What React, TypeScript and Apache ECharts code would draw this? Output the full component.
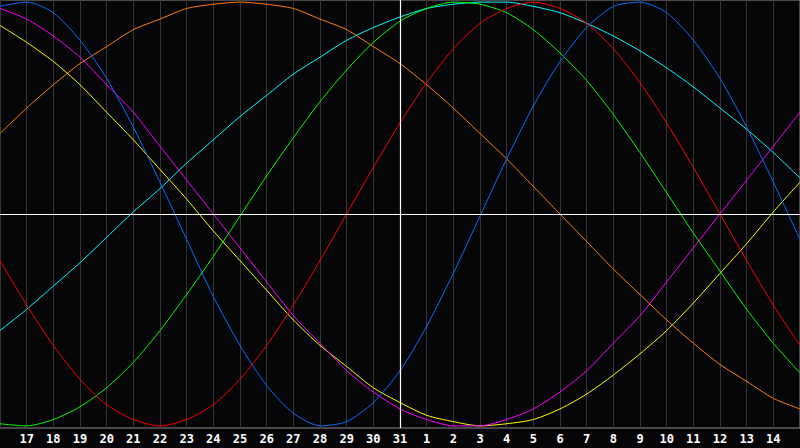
import * as echarts from 'echarts';
import { useEffect, useRef } from 'react';

// day labels along the bottom (first and last sit on the frame edges)
const days = [
  '16', '17', '18', '19', '20', '21', '22', '23', '24', '25', '26', '27', '28', '29', '30', '31',
  '1', '2', '3', '4', '5', '6', '7', '8', '9', '10', '11', '12', '13', '14', '15',
];

// curve values, -100..100
const red = [
  -22, -43, -62, -78, -90, -97, -100, -97, -90, -78, -62, -43, -22, 0, 22, 43,
  62, 78, 90, 97, 100, 97, 90, 78, 62, 43, 22, 0, -22, -43, -62,
];
const green = [
  -99, -100, -97, -91, -82, -70, -55, -38, -20, -1, 18, 36, 53, 68, 81, 91,
  97, 100, 99, 95, 87, 76, 63, 47, 29, 10, -9, -27, -45, -61, -75,
];
const blue = [
  98, 100, 95, 82, 64, 41, 15, -12, -39, -62, -81, -94, -100, -98, -89, -74,
  -53, -28, -1, 26, 51, 72, 88, 98, 100, 95, 82, 64, 41, 15, -12,
];
const cyan = [
  -55, -45, -34, -23, -11, 1, 12, 24, 35, 46, 56, 66, 74, 82, 88, 93,
  97, 99, 100, 100, 98, 95, 90, 84, 77, 69, 60, 50, 40, 29, 17,
];
const magenta = [
  97, 92, 84, 74, 61, 48, 32, 16, 0, -16, -32, -48, -61, -74, -84, -92,
  -97, -100, -100, -97, -92, -84, -74, -61, -48, -32, -16, 0, 16, 32, 48,
];
const yellow = [
  89, 81, 72, 61, 48, 35, 21, 7, -8, -22, -36, -50, -62, -72, -82, -89,
  -95, -98, -100, -99, -97, -92, -85, -76, -66, -55, -42, -28, -14, 1, 15,
];
const orange = [
  38, 50, 61, 71, 79, 87, 92, 97, 99, 100, 99, 97, 92, 87, 79, 71,
  61, 50, 38, 26, 13, 0, -13, -26, -38, -50, -61, -71, -79, -87, -92,
];

const curves = [
  { name: 'orange', data: orange, color: '#ff8000' },
  { name: 'cyan', data: cyan, color: '#00ffff' },
  { name: 'yellow', data: yellow, color: '#ffff00' },
  { name: 'magenta', data: magenta, color: '#ff00ff' },
  { name: 'green', data: green, color: '#00ff00' },
  { name: 'blue', data: blue, color: '#0a6cff' },
  { name: 'red', data: red, color: '#ff0000' },
];

const getOptions = (): echarts.EChartsOption => ({
  animation: false,
  backgroundColor: '#060609',
  grid: {
    left: 0,
    right: 0,
    top: 0,
    bottom: 20,
    show: true,
    borderColor: '#8a8a8a',
    borderWidth: 1,
  },
  xAxis: {
    type: 'category',
    data: days,
    boundaryGap: false,
    axisLine: { show: false },
    axisTick: { show: false },
    axisLabel: {
      interval: (idx: number) => idx > 0 && idx < days.length - 1,
      color: '#ffffff',
      fontFamily: 'DejaVu Sans Mono',
      fontWeight: 'bold',
      fontSize: 12,
      margin: 5,
    },
    splitLine: {
      show: true,
      interval: 0,
      lineStyle: { color: '#363636', width: 1 },
    },
  },
  yAxis: {
    type: 'value',
    min: -101,
    max: 101,
    show: false,
    splitLine: { show: false },
  },
  series: [
    {
      name: 'axes',
      type: 'line',
      data: [],
      z: 1,
      markLine: {
        silent: true,
        symbol: 'none',
        label: { show: false },
        lineStyle: { color: '#ffffff', width: 1.2, type: 'solid' },
        data: [{ yAxis: 0 }, { xAxis: 15 }],
      },
    },
    ...curves.map(c => ({
      name: c.name,
      type: 'line' as const,
      data: c.data,
      smooth: 0.25,
      showSymbol: false,
      z: 2,
      lineStyle: { color: c.color, width: 1 },
      itemStyle: { color: c.color },
    })),
  ],
});

export default function App() {
  const chartRef = useRef<HTMLDivElement>(null);

  useEffect(() => {
    if (!chartRef.current) return;
    const chart = echarts.init(chartRef.current, null, { renderer: 'svg' });
    chart.setOption(getOptions());
    return () => {
      chart.dispose();
    };
  }, []);

  return (
    <div
      ref={chartRef}
      style={{ position: 'fixed', left: 0, top: 0, width: 800, height: 448, background: '#060609' }}
    />
  );
}
